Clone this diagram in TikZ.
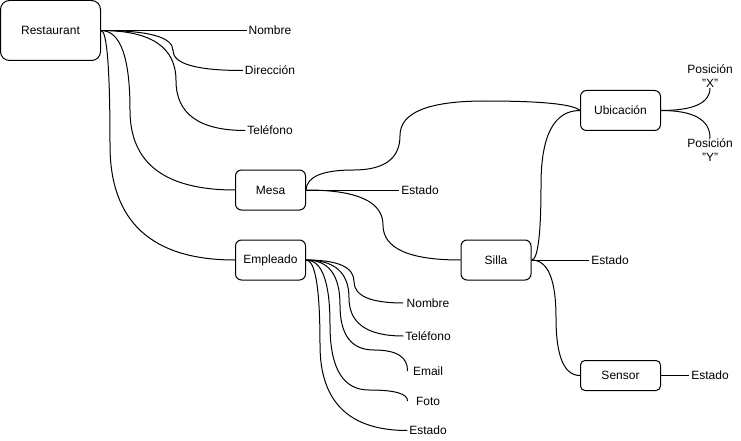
\documentclass[tikz,border=0pt]{standalone}
\usepackage{fontspec}
\setmainfont{Liberation Sans}
\usetikzlibrary{calc}
\newcommand\qto[3]{.. controls ($(#1)!0.6667!(#2)$) and ($(#3)!0.6667!(#2)$) .. (#3)}
\begin{document}
\begin{tikzpicture}[x=1pt,y=-1pt,line width=1pt,
  box/.style={draw,rounded corners=6pt,minimum width=70pt,minimum height=40pt,inner sep=0pt,font=\fontsize{12}{14}\selectfont},
  lbl/.style={inner xsep=1.5pt,inner ysep=0pt,font=\fontsize{12}{14}\selectfont,align=center}]
\useasboundingbox (0,0) rectangle (741,441);
% main nodes
\node[box,rounded corners=9pt,minimum width=100pt,minimum height=60pt] (r) at (50.5,30.5) {Restaurant};
\node[box] (mesa) at (270.5,190) {Mesa};
\node[box] (emp) at (270.5,260) {Empleado};
\node[box] (silla) at (496,260) {Silla};
\node[box,minimum width=80pt] (ubi) at (620.5,110.5) {Ubicación};
\node[box,minimum width=80pt,minimum height=30pt,rounded corners=4.5pt] (sen) at (620.5,375.5) {Sensor};
% labels
\node[lbl] (rn) at (270,30.5) {Nombre};
\node[lbl] (rd) at (270,70.5) {Dirección};
\node[lbl] (rt) at (270,130.5) {Teléfono};
\node[lbl] (me) at (420,190) {Estado};
\node[lbl] (se) at (610,260) {Estado};
\node[lbl] (sne) at (710,375.5) {Estado};
\node[lbl] (px) at (710,76) {Posición\\"X"};
\node[lbl] (py) at (710,150) {Posición\\"Y"};
\node[lbl,inner xsep=3pt] (en) at (428,303) {Nombre};
\node[lbl] (et) at (428,336) {Teléfono};
\node[lbl,minimum width=40pt] (em) at (428,371) {Email};
\node[lbl,minimum width=40pt] (ef) at (428,401) {Foto};
\node[lbl] (ees) at (428,430.5) {Estado};
% connectors
\draw (r.east) -- (rn.west);
\draw (r.east) \qto{r.east}{173,30.5}{173,50.5} \qto{173,50.5}{173,70.5}{rd.west};
\draw (r.east) \qto{r.east}{176,30.5}{176,80.5} \qto{176,80.5}{176,130.5}{rt.west};
\draw (r.east) \qto{r.east}{130,30.5}{130,110.25} \qto{130,110.25}{130,190}{mesa.west};
\draw (r.east) \qto{r.east}{110,30.5}{110,145.25} \qto{110,145.25}{110,260}{emp.west};
\draw (mesa.east) -- (me.west);
\draw (mesa.east) \qto{mesa.east}{383,190}{383,225} \qto{383,225}{383,260}{silla.west};
\draw (mesa.east) \qto{mesa.east}{307,170}{353.5,170} \qto{353.5,170}{400,170}{400,135.5}
      \qto{400,135.5}{400,101}{485,101} \qto{485,101}{570,101}{ubi.west};
\draw (silla.east) \qto{silla.east}{541,260}{541,185} \qto{541,185}{541,110.5}{ubi.west};
\draw (silla.east) -- (se.west);
\draw (silla.east) \qto{silla.east}{556,260}{556,317.75} \qto{556,317.75}{556,375.5}{sen.west};
\draw (sen.east) -- (sne.west);
\draw (ubi.east) \qto{ubi.east}{710,110.5}{px.south};
\draw (ubi.east) \qto{ubi.east}{710,110.5}{py.north};
\draw (emp.east) \qto{emp.east}{354,260}{354,281.5} \qto{354,281.5}{354,303}{en.west};
\draw (emp.east) \qto{emp.east}{349,260}{349,298} \qto{349,298}{349,336}{et.west};
\draw (emp.east) \qto{emp.east}{340,260}{340,305} \qto{340,305}{340,350}{374,350} \qto{374,350}{408,350}{em.west};
\draw (emp.east) \qto{emp.east}{330,260}{330,325} \qto{330,325}{330,390}{369,390} \qto{369,390}{408,390}{ef.west};
\draw (emp.east) \qto{emp.east}{320,260}{320,345} \qto{320,345}{320,430.5}{ees.west};
\end{tikzpicture}
\end{document}
